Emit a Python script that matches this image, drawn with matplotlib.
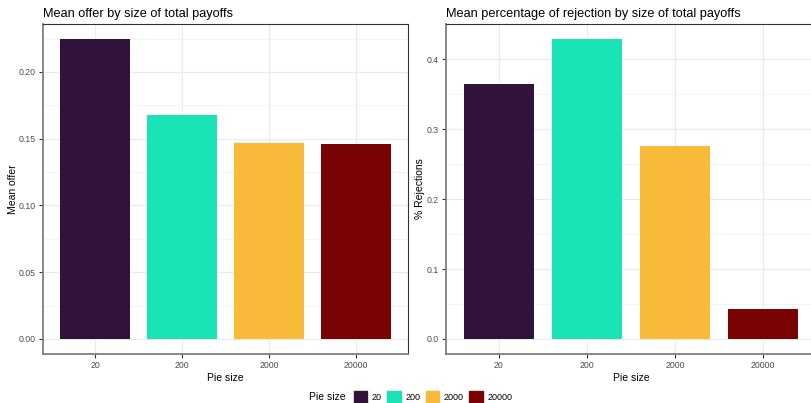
import matplotlib.pyplot as plt
from matplotlib.patches import Patch
from matplotlib.ticker import MultipleLocator

plt.rcParams['font.family'] = ['Liberation Sans', 'DejaVu Sans']

# data
pie_sizes = ['20', '200', '2000', '20000']
mean_offer = [0.2247, 0.1678, 0.1468, 0.1460]
pct_rejection = [0.364, 0.4286, 0.2757, 0.043]
colors = ['#30123B', '#1AE4B6', '#FABA39', '#7A0403']

W, H = 811, 403
fig = plt.figure(figsize=(W / 100, H / 100), dpi=100)


def px_axes(x0, y0, x1, y1):
    return fig.add_axes([x0 / W, 1 - y1 / H, (x1 - x0) / W, (y1 - y0) / H])


def style(ax, values, major, title, ylabel, fmt):
    x = range(len(values))
    ax.bar(x, values, width=0.8, color=colors, zorder=3)
    ax.set_xlim(-0.6, len(values) - 0.4)
    top = max(values)
    ax.set_ylim(-0.05 * top, top * 1.05)
    ax.set_xticks(list(x))
    ax.set_xticklabels(pie_sizes)
    ax.yaxis.set_major_locator(MultipleLocator(major))
    ax.yaxis.set_minor_locator(MultipleLocator(major / 2))
    ax.yaxis.set_major_formatter(fmt)
    ax.grid(which='major', color='#EBEBEB', lw=0.9, zorder=0)
    ax.grid(which='minor', axis='y', color='#F2F2F2', lw=0.6, zorder=0)
    ax.set_axisbelow(True)
    ax.tick_params(which='major', length=3, width=0.8, color='#333333',
                   labelsize=6.3, labelcolor='#4D4D4D', pad=2)
    ax.tick_params(which='minor', length=0)
    for s in ['top', 'right']:
        ax.spines[s].set_color('#333333')
        ax.spines[s].set_linewidth(0.8)
    for s in ['left', 'bottom']:
        ax.spines[s].set_color('#7F7F7F')
        ax.spines[s].set_linewidth(1.3)
    ax.set_title(title, loc='left', fontsize=9.2, color='#000000', pad=5)
    ax.set_xlabel('Pie size', fontsize=7.5, labelpad=2)
    ax.set_ylabel(ylabel, fontsize=7.5, labelpad=1)


ax1 = px_axes(43, 24, 408, 354)
style(ax1, mean_offer, 0.05, 'Mean offer by size of total payoffs', 'Mean offer',
      lambda v, p: f'{v:.2f}')

ax2 = px_axes(446, 24, 816, 354)
style(ax2, pct_rejection, 0.1, 'Mean percentage of rejection by size of total payoffs',
      '% Rejections', lambda v, p: f'{v:.1f}')

handles = [Patch(color=c) for c in colors]
fig.legend(handles, pie_sizes, ncol=4, loc='center', bbox_to_anchor=(433 / W, 1 - 397 / H),
           frameon=False, fontsize=6.5, handlelength=1.5, handleheight=1.6,
           handletextpad=0.5, columnspacing=0.6, borderpad=0)
fig.text(309 / W, 1 - 397 / H, 'Pie size', fontsize=7.5, va='center', ha='left')

fig.savefig('out.png', dpi=100)
